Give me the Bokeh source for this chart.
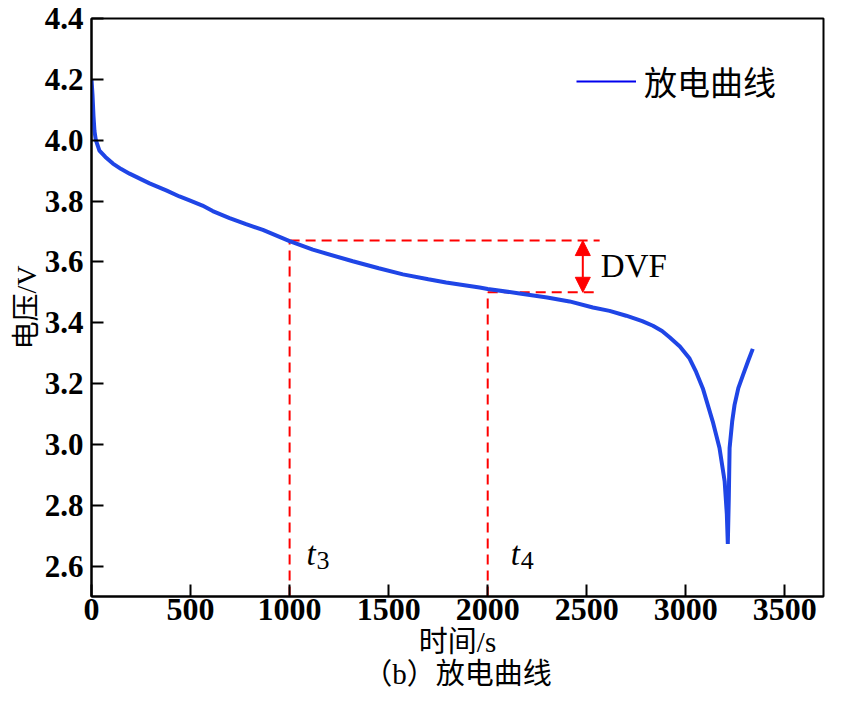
from bokeh.plotting import figure
from bokeh.models import (Range1d, FixedTicker, Label, Arrow, NormalHead,
                          Legend, LegendItem)
from bokeh.embed import file_html
from bokeh.resources import INLINE

# ---- data ----
time_s = [0, 5, 10, 15, 22, 40, 70, 108, 150, 192, 293, 380, 444, 495, 560,
          612, 697, 780, 865, 1000, 1117, 1319, 1450, 1572, 1700, 1790, 1959,
          2000, 2161, 2300, 2413, 2531, 2615, 2699, 2780, 2834, 2880, 2918,
          2970, 3019, 3052, 3086, 3136, 3170, 3196, 3207, 3212, 3217, 3221,
          3234, 3246, 3265, 3288, 3315, 3338]
voltage_v = [4.20, 4.15, 4.08, 4.03, 4.00, 3.966, 3.945, 3.923, 3.905, 3.890,
             3.858, 3.834, 3.815, 3.802, 3.785, 3.767, 3.744, 3.724, 3.705,
             3.668, 3.640, 3.602, 3.579, 3.559, 3.543, 3.532, 3.516, 3.511,
             3.496, 3.483, 3.470, 3.450, 3.439, 3.423, 3.405, 3.390, 3.373,
             3.352, 3.322, 3.282, 3.238, 3.184, 3.075, 2.988, 2.879, 2.771,
             2.673, 2.825, 2.988, 3.075, 3.130, 3.185, 3.227, 3.275, 3.314]

x_ticks = [0, 500, 1000, 1500, 2000, 2500, 3000, 3500]
y_ticks = [2.6, 2.8, 3.0, 3.2, 3.4, 3.6, 3.8, 4.0, 4.2, 4.4]
y_tick_labels = ["2.6", "2.8", "3.0", "3.2", "3.4", "3.6", "3.8", "4.0", "4.2", "4.4"]

t_marks = [1000, 2000]          # t3, t4
t_subs = ["3", "4"]
v_marks = [3.67, 3.50]          # voltage at t3, t4
dvf_x = 2480                    # position of the DVF arrow
dash_end = 2565                 # end of horizontal dashed guides

series_name = "放电曲线"
x_title = "时间/s"
y_title = "电压/V"
caption = "（b）放电曲线"

SERIF = "Liberation Serif"
MIXED = "Liberation Serif, Noto Sans CJK SC"
CURVE = "#1f45e6"

X_MIN, X_MAX = 0, 3695
Y_MIN, Y_MAX = 2.5, 4.4

p = figure(width=825, height=695, output_backend="svg", toolbar_location=None,
           x_range=Range1d(X_MIN, X_MAX), y_range=Range1d(Y_MIN, Y_MAX),
           min_border_left=91, min_border_right=2, min_border_top=18,
           min_border_bottom=99)

p.xgrid.visible = False
p.ygrid.visible = False
p.outline_line_color = "black"
p.outline_line_width = 2
p.background_fill_color = "white"
p.border_fill_color = "white"

# axes
for ax in (p.xaxis[0], p.yaxis[0]):
    ax.axis_line_width = 2
    ax.major_tick_line_width = 2
    ax.major_tick_in = 12
    ax.major_tick_out = 0
    ax.minor_tick_line_color = None
    ax.major_label_text_font = SERIF
    ax.major_label_text_font_style = "bold"
    ax.major_label_text_color = "black"
    ax.axis_label_text_font = MIXED
    ax.axis_label_text_font_style = "normal"
    ax.axis_label_text_color = "black"

p.xaxis.ticker = FixedTicker(ticks=x_ticks)
p.yaxis.ticker = FixedTicker(ticks=y_ticks)
p.yaxis.major_label_overrides = {t: l for t, l in zip(y_ticks, y_tick_labels)}
p.xaxis.major_label_text_font_size = "32px"
p.yaxis.major_label_text_font_size = "31px"
p.xaxis.major_label_standoff = 2
p.yaxis.major_label_standoff = 8
# x title and the figure caption below it, as two lines of the axis label
p.xaxis.axis_label = x_title + "\n" + caption
p.xaxis.axis_label_text_line_height = 1.0
p.yaxis.axis_label = y_title
p.xaxis.axis_label_text_font_size = "29px"
p.yaxis.axis_label_text_font_size = "28px"
p.xaxis.axis_label_standoff = 3
p.yaxis.axis_label_standoff = 0

# guide lines
p.segment(x0=t_marks, y0=[Y_MIN, Y_MIN], x1=t_marks, y1=v_marks,
          line_color="#ff0000", line_width=2, line_dash="10 6")
p.segment(x0=t_marks, y0=v_marks, x1=[dash_end, dash_end], y1=v_marks,
          line_color="#ff0000", line_width=2, line_dash="10 6")

# curve
p.line(time_s, voltage_v, line_color=CURVE, line_width=4)

# DVF arrow
p.add_layout(Arrow(x_start=dvf_x, y_start=v_marks[1], x_end=dvf_x, y_end=v_marks[0],
                   line_color="#ff0000", line_width=2,
                   start=NormalHead(size=15, fill_color="#ff0000", line_color="#ff0000"),
                   end=NormalHead(size=15, fill_color="#ff0000", line_color="#ff0000")))
p.add_layout(Label(x=dvf_x, y=(v_marks[0] + v_marks[1]) / 2, x_offset=18, text="DVF",
                   text_font=SERIF, text_font_size="33px", text_baseline="middle",
                   text_color="black"))

# t3 / t4 labels
offs = [17, 23]
for tm, sub, off in zip(t_marks, t_subs, offs):
    p.add_layout(Label(x=tm, y=Y_MIN, x_offset=off, y_offset=43, text="t",
                       text_font=SERIF, text_font_style="italic", text_font_size="33px",
                       text_baseline="alphabetic", text_color="black"))
    p.add_layout(Label(x=tm, y=Y_MIN, x_offset=off + 10, y_offset=36, text=sub,
                       text_font=SERIF, text_font_size="26px",
                       text_baseline="alphabetic", text_color="black"))

# legend (separate thin pure-blue sample, as in the reference)
leg_r = p.line(x=time_s[:1], y=voltage_v[:1], line_color="#0000ee", line_width=2)
legend = Legend(items=[LegendItem(label=series_name, renderers=[leg_r])],
                location=(485, 491), border_line_color=None, background_fill_alpha=0,
                label_text_font="Noto Sans CJK SC", label_text_font_size="33px",
                label_text_color="black",
                glyph_width=60, glyph_height=30, label_height=30, label_standoff=8,
                padding=4, margin=0)
p.add_layout(legend)

open("out.html", "w").write(file_html(p, INLINE))
